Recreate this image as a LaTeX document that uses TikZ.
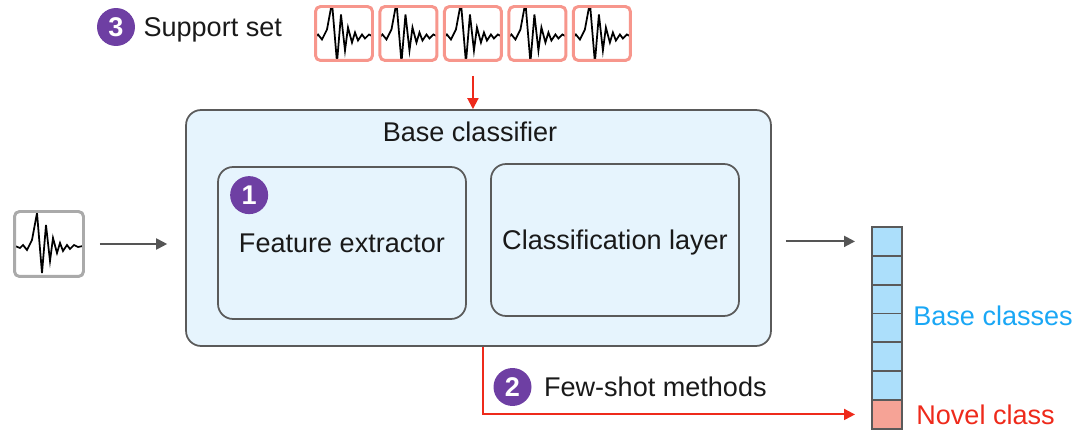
\documentclass[tikz,border=0pt]{standalone}
\usepackage{fontspec}
\setmainfont{Liberation Sans}
\usetikzlibrary{arrows.meta,positioning,calc}
\definecolor{inkBlack}{RGB}{25, 25, 25}
\definecolor{panelBlue}{RGB}{230, 244, 253}
\definecolor{panelGray}{RGB}{90, 90, 90}
\definecolor{badgePurple}{RGB}{110, 63, 163}
\definecolor{sampleRed}{RGB}{247, 150, 140}
\definecolor{probeGray}{RGB}{170, 170, 170}
\definecolor{arrowGray}{RGB}{85, 85, 85}
\definecolor{arrowRed}{RGB}{238, 42, 27}
\definecolor{cellBlue}{RGB}{172, 223, 251}
\definecolor{cellRed}{RGB}{246, 163, 150}
\definecolor{classBlue}{RGB}{26, 167, 245}

\begin{document}
\begin{tikzpicture}[
  x=0.02cm, y=-0.02cm,
  every node/.style={font=\fontsize{15.4}{18}\selectfont, text=inkBlack},
  panel/.style={
    draw=panelGray,
    fill=panelBlue,
    line width=1pt,
    rounded corners=0.3cm
  },
  block/.style={panel, minimum width=4.96cm, minimum height=3.04cm, align=center, text depth=0pt},
  badge/.style={
    circle,
    fill=badgePurple,
    text=white,
    minimum size=0.76cm,
    inner sep=0pt,
    font=\fontsize{15.4}{18}\selectfont\bfseries
  },
  trace/.style={draw=black, line width=1pt, sharp corners, line join=miter},
  seismo/.style={path picture={
    \draw[trace, shift={(path picture bounding box.center)}, scale=#1]
      plot coordinates {(-34,2) (-29,4) (-26,1) (-22,6) (-17,-4) (-12,-31)
        (-7,29) (-3,-19) (1,17) (4,-6) (8,9) (11,-1) (14,7) (18,1) (21,5)
        (25,1) (29,3) (34,2)};}},
  sample/.style={
    draw=sampleRed,
    fill=white,
    line width=1.7pt,
    rounded corners=0.1cm,
    minimum width=1.14cm,
    minimum height=1.08cm,
    inner sep=0pt,
    seismo=0.84
  },
  probe/.style={sample, draw=probeGray, minimum width=1.38cm, minimum height=1.3cm, seismo=1},
  cell/.style={
    draw=panelGray,
    fill=cellBlue,
    line width=1pt,
    minimum width=0.6cm,
    minimum height=0.577cm,
    inner sep=0pt,
    outer sep=0pt
  },
  arrow/.style={-{Triangle[length=2.2mm,width=2.2mm]},line width=1.1pt,arrowGray},
  redarrow/.style={arrow,arrowRed}
]
  \useasboundingbox (0,0) rectangle (1079,432);

  % support set on top
  \node[badge] (three) at (116,27) {3};
  \node[right=0.04cm of three,text depth=0pt] (suptitle) {Support set};
  \node[sample] (sup1) at (344,33.5) {};
  \node[sample,right=0.09cm of sup1] (sup2) {};
  \node[sample,right=0.09cm of sup2] (sup3) {};
  \node[sample,right=0.09cm of sup3] (sup4) {};
  \node[sample,right=0.09cm of sup4] (sup5) {};

  % base classifier and its two parts
  \node[panel,minimum width=11.7cm,minimum height=4.72cm] (base) at (478.5,228) {};
  \node (basetitle) at (470,132) {Base classifier};
  \node[block] (feat) at (342,243) {Feature extractor};
  \node[block] (cls) at (615,240) {Classification layer};
  \node[badge] (one) at ([xshift=0.64cm,yshift=-0.58cm]feat.north west) {1};

  % query sample
  \node[probe] (query) at (49,244) {};

  % output scores
  \node[cell] (c1) at (887,241.4) {};
  \node[cell,below=0cm of c1] (c2) {};
  \node[cell,below=0cm of c2] (c3) {};
  \node[cell,below=0cm of c3] (c4) {};
  \node[cell,below=0cm of c4] (c5) {};
  \node[cell,below=0cm of c5] (c6) {};
  \node[cell,fill=cellRed,below=0cm of c6] (novel) {};
  \node[anchor=west,inner sep=0pt,text=classBlue] (baselbl) at (913,316) {Base classes};
  \node[right=0.28cm of novel.east,anchor=west,inner sep=0pt,text=arrowRed] (novellbl) {Novel class};

  % few-shot label
  \node[badge] (two) at (512.5,387) {2};
  \node[right=0.12cm of two,text depth=0pt] (fewtitle) {Few-shot methods};

  \coordinate[below=0.28cm of sup3] (drop);
  \draw[redarrow] (drop) -- (drop |- base.north);
  \draw[arrow] ([xshift=0.3cm]query.east) -- ([xshift=-0.36cm]query.east -| base.west);
  \draw[arrow] ([xshift=0.28cm]base.east |- c1) -- ([xshift=-0.34cm]c1.west);
  \draw[redarrow] ([xshift=0.09cm]base.south) -- ([xshift=0.09cm]base.south |- novel.west) -- ([xshift=-0.34cm]novel.west);
\end{tikzpicture}
\end{document}
